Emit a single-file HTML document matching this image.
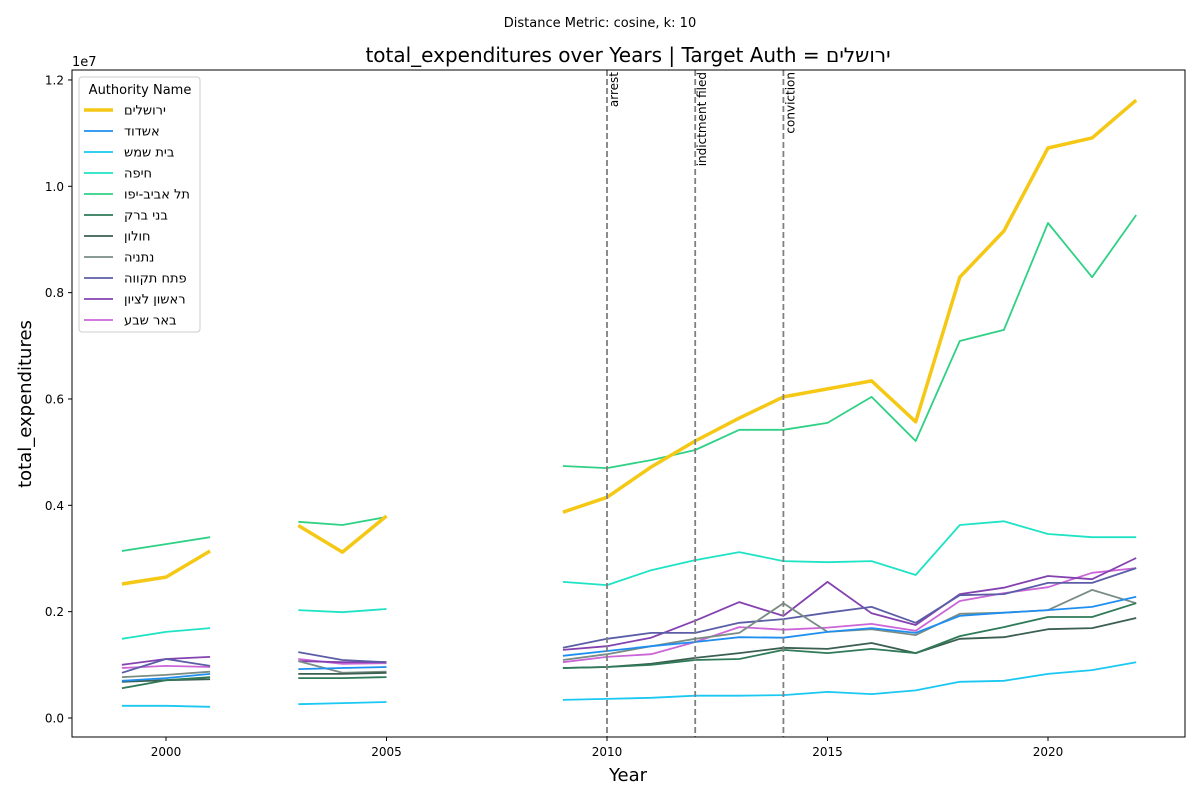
<!DOCTYPE html>
<html><head><meta charset="utf-8"><style>
body{margin:0;background:#fff;font-family:"Liberation Sans","DejaVu Sans",sans-serif;}
svg text{font-family:"DejaVu Sans","Liberation Sans",sans-serif;}
</style></head><body>
<svg id="chart" width="1200" height="800" xmlns="http://www.w3.org/2000/svg">
<text x="600" y="27" text-anchor="middle" font-size="13">Distance Metric: cosine, k: 10</text>
<text x="628" y="62" text-anchor="middle" font-size="20">total_expenditures over Years | Target Auth = ירושלים</text>
<text transform="translate(31,404) rotate(-90)" text-anchor="middle" font-size="18">total_expenditures</text>
<text x="628" y="781" text-anchor="middle" font-size="18">Year</text>
<text x="72" y="66" font-size="13">1e7</text>
<g id="plot"></g>
<rect x="72" y="70" width="1113" height="667" fill="none" stroke="#000" stroke-width="1"/>
</svg>
<script>
const years=[1999,2000,2001,2002,2003,2004,2005,2006,2007,2008,2009,2010,2011,2012,2013,2014,2015,2016,2017,2018,2019,2020,2021,2022];
const N=null;
const seriesNames=["ירושלים","אשדוד","בית שמש","חיפה","תל אביב-יפו","בני ברק","חולון","נתניה","פתח תקווה","ראשון לציון","באר שבע"];
const seriesColors=["#f5c816","#1e8ff0","#1ac8f2","#1ee3c4","#2fd184","#2f7a58","#3b5f50","#7a8c84","#5b5ea6","#8442b0","#cc66d8"];
const jerusalem=[2.52,2.65,3.14,N,3.62,3.12,3.8,N,N,N,3.87,4.15,4.72,5.21,5.64,6.04,6.19,6.34,5.57,8.29,9.16,10.72,10.91,11.62];
const ashdod=[0.70,0.75,0.83,N,0.92,0.94,0.96,N,N,N,1.17,1.26,1.35,1.43,1.52,1.51,1.62,1.69,1.60,1.92,1.98,2.03,2.09,2.28];
const beitShemesh=[0.23,0.23,0.21,N,0.26,0.28,0.30,N,N,N,0.34,0.36,0.38,0.42,0.42,0.43,0.49,0.45,0.52,0.68,0.70,0.83,0.90,1.05];
const haifa=[1.49,1.62,1.69,N,2.03,1.99,2.05,N,N,N,2.56,2.50,2.78,2.97,3.12,2.95,2.93,2.95,2.69,3.63,3.70,3.46,3.40,3.40];
const telAviv=[3.14,3.27,3.40,N,3.69,3.63,3.78,N,N,N,4.74,4.70,4.85,5.04,5.42,5.42,5.55,6.04,5.21,7.09,7.30,9.31,8.29,9.46];
const bneiBrak=[0.56,0.71,0.77,N,0.75,0.75,0.77,N,N,N,0.94,0.96,1.00,1.09,1.11,1.28,1.22,1.30,1.22,1.54,1.71,1.90,1.90,2.16];
const holon=[0.68,0.71,0.73,N,0.83,0.83,0.85,N,N,N,0.94,0.96,1.02,1.13,1.22,1.32,1.30,1.41,1.22,1.49,1.52,1.67,1.69,1.88];
const netanya=[0.77,0.81,0.87,N,1.07,0.85,0.87,N,N,N,1.09,1.20,1.35,1.49,1.60,2.16,1.62,1.67,1.56,1.96,1.98,2.03,2.41,2.16];
const petahTikva=[0.85,1.11,0.98,N,1.24,1.09,1.05,N,N,N,1.32,1.49,1.60,1.60,1.79,1.86,1.98,2.09,1.79,2.31,2.33,2.54,2.54,2.82];
const rishon=[1.00,1.11,1.15,N,1.07,1.05,1.05,N,N,N,1.28,1.35,1.51,1.83,2.18,1.92,2.56,1.97,1.75,2.33,2.45,2.67,2.61,3.01];
const beerSheva=[0.94,0.98,0.96,N,1.11,1.02,1.03,N,N,N,1.05,1.15,1.20,1.43,1.71,1.66,1.70,1.77,1.64,2.20,2.35,2.46,2.73,2.82];
const seriesValues=[jerusalem,ashdod,beitShemesh,haifa,telAviv,bneiBrak,holon,netanya,petahTikva,rishon,beerSheva];
const xTicks=[2000,2005,2010,2015,2020];
const yTicks=[0,2,4,6,8,10,12];
const yTickLabels=["0.0","0.2","0.4","0.6","0.8","1.0","1.2"];
const eventYears=[2010,2012,2014];
const eventLabels=["arrest","indictment filed","conviction"];

const NS="http://www.w3.org/2000/svg";
const X=y=>166+(y-2000)*44.1;
const Y=v=>718-v*53.17;
const g=document.getElementById('plot');
function mk(t,a){const e=document.createElementNS(NS,t);for(const k in a)e.setAttribute(k,a[k]);return e;}
xTicks.forEach(t=>{
  const l=mk('line',{x1:X(t),x2:X(t),y1:737,y2:741,stroke:'#000'});
  
  
  g.appendChild(l);
  const tx=mk('text',{x:X(t),y:756,'text-anchor':'middle','font-size':12});
  
  
  tx.textContent=t;g.appendChild(tx);
});
yTicks.forEach((t,i)=>{
  const l=mk('line',{x1:68,x2:72,y1:Y(t),y2:Y(t),stroke:'#000'});
  
  
  g.appendChild(l);
  const tx=mk('text',{x:64,y:Y(t)+4.5,'text-anchor':'end','font-size':12});
  
  
  tx.textContent=yTickLabels[i];g.appendChild(tx);
});
// series, draw in reverse so Jerusalem on top
for(let s=seriesValues.length-1;s>=0;s--){
  const vals=seriesValues[s];let d='',pen=false;
  vals.forEach((v,i)=>{
    if(v===null){pen=false;return;}
    d+=(pen?'L':'M')+X(years[i]).toFixed(1)+','+Y(v).toFixed(1);pen=true;
  });
  const p=mk('path',{d:d,fill:'none',stroke:seriesColors[s],'stroke-width':s===0?3.5:1.8,'stroke-linejoin':'round'});
  
  
  g.appendChild(p);
}
eventYears.forEach((ey,i)=>{
  const l=mk('line',{x1:X(ey),x2:X(ey),y1:70,y2:737,stroke:'#808080','stroke-width':1.8,'stroke-dasharray':'6,3'});
  
  
  g.appendChild(l);
  const tx=mk('text',{transform:`translate(${X(ey)+11},72) rotate(-90)`,'text-anchor':'end','font-size':12});
  
  
  tx.textContent=eventLabels[i];g.appendChild(tx);
});
// legend
const lg=mk('g',{});


g.appendChild(lg);
const box=mk('rect',{x:79,y:77,width:121,height:255,rx:3,fill:'#fff','fill-opacity':0.85,stroke:'#ccc'});


lg.appendChild(box);
const lt=mk('text',{x:140,y:94,'text-anchor':'middle','font-size':13});


lt.textContent='Authority Name';lg.appendChild(lt);
seriesNames.forEach((n,i)=>{
  const yy=110+i*21;
  const l=mk('line',{x1:84,x2:113,y1:yy,y2:yy,stroke:seriesColors[i],'stroke-width':i===0?3.5:1.8});
  
  
  lg.appendChild(l);
  const t=mk('text',{x:124,y:yy+4.5,'font-size':13});
  
  
  t.textContent=n;lg.appendChild(t);
});
</script>
</body></html>
